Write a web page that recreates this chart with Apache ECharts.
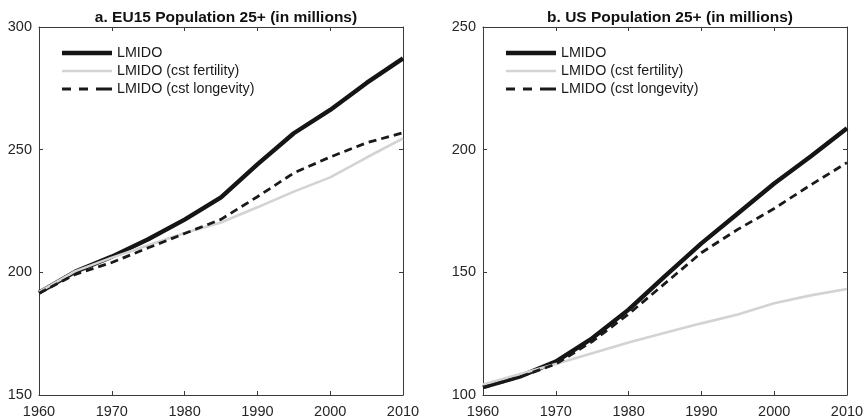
<!DOCTYPE html>
<html>
<head>
<meta charset="utf-8">
<script src="https://cdn.jsdelivr.net/npm/echarts@6/dist/echarts.min.js"></script>
<style>html,body{margin:0;padding:0;background:#fff}#c{width:867px;height:420px}</style>
</head>
<body>
<div id="c"></div>
<script>
const years = [1960, 1965, 1970, 1975, 1980, 1985, 1990, 1995, 2000, 2005, 2010];
const seriesNames = ['LMIDO', 'LMIDO (cst fertility)', 'LMIDO (cst longevity)'];
const titles = ['a. EU15 Population 25+ (in millions)', 'b. US Population 25+ (in millions)'];

const euBase      = [191.7, 200.3, 206.4, 213.5, 221.5, 230.6, 244.0, 256.7, 266.2, 277.2, 287.2];
const euFertility = [192.0, 200.5, 206.0, 211.0, 216.0, 220.3, 226.5, 232.9, 238.7, 246.8, 254.6];
const euLongevity = [191.5, 199.2, 204.0, 210.0, 215.8, 221.6, 230.8, 240.5, 247.0, 252.8, 256.9];

const usBase      = [103.2, 107.5, 113.6, 123.1, 134.8, 148.5, 161.8, 174.0, 186.2, 197.2, 208.7];
const usFertility = [104.3, 108.5, 112.6, 117.0, 121.4, 125.4, 129.2, 132.8, 137.4, 140.6, 143.2];
const usLongevity = [103.0, 107.3, 112.6, 121.8, 133.0, 145.5, 158.0, 167.5, 176.0, 185.6, 194.7];

const xTicks = [1960, 1970, 1980, 1990, 2000, 2010];
const euYRange = [150, 300];
const usYRange = [100, 250];

const pair = (vals) => years.map((y, i) => [y, vals[i]]);

const axisCol = '#3a3a3a';
const textCol = '#262626';
const fontFam = 'Liberation Sans, Arial, Helvetica, sans-serif';

const grids = [
  {left: 39, right: 464, top: 27, bottom: 25},
  {left: 483, right: 20, top: 27, bottom: 25}
];

function xAxes(g) {
  return [
    {gridIndex: g, type: 'value', position: 'bottom', min: xTicks[0], max: xTicks[xTicks.length-1], interval: 10,
     axisLine: {show: true, lineStyle: {color: axisCol, width: 1}},
     axisTick: {show: true, inside: true, length: 4, lineStyle: {color: axisCol}},
     axisLabel: {show: true, color: textCol, fontSize: 14.5, fontFamily: fontFam, margin: 9,
                 formatter: (v) => String(v)},
     splitLine: {show: false}},
    {gridIndex: g, type: 'value', position: 'top', min: xTicks[0], max: xTicks[xTicks.length-1], interval: 10,
     axisLine: {show: true, lineStyle: {color: axisCol, width: 1}},
     axisTick: {show: true, inside: true, length: 4, lineStyle: {color: axisCol}},
     axisLabel: {show: false}, splitLine: {show: false}}
  ];
}
function yAxes(g, r) {
  return [
    {gridIndex: g, type: 'value', position: 'left', min: r[0], max: r[1], interval: 50,
     axisLine: {show: true, lineStyle: {color: axisCol, width: 1}},
     axisTick: {show: true, inside: true, length: 4, lineStyle: {color: axisCol}},
     axisLabel: {show: true, color: textCol, fontSize: 14.5, fontFamily: fontFam, margin: 7,
                 formatter: (v) => String(v)},
     splitLine: {show: false}},
    {gridIndex: g, type: 'value', position: 'right', min: r[0], max: r[1], interval: 50,
     axisLine: {show: true, lineStyle: {color: axisCol, width: 1}},
     axisTick: {show: true, inside: true, length: 4, lineStyle: {color: axisCol}},
     axisLabel: {show: false}, splitLine: {show: false}}
  ];
}

const styles = [
  {color: '#151515', width: 4.4, type: 'solid', icon: 'path://M0,0H50V4.4H0Z'},
  {color: '#d3d3d3', width: 2.6, type: 'solid', icon: 'path://M0,0H50V2.6H0Z'},
  {color: '#1a1a1a', width: 2.8, type: [8, 5], icon: 'path://M0,0H9V3H0Z M17,0H26V3H17Z M34,0H50V3H34Z'}
];

function mk(name, vals, g, s) {
  return {
    name: name, type: 'line', xAxisIndex: g * 2, yAxisIndex: g * 2,
    data: pair(vals), symbol: 'none', showSymbol: false, animation: false,
    lineStyle: {color: styles[s].color, width: styles[s].width, type: styles[s].type, cap: 'butt'},
    itemStyle: {color: styles[s].color}
  };
}

const series = [
  mk(seriesNames[0], euBase, 0, 0),
  mk(seriesNames[1], euFertility, 0, 1),
  mk(seriesNames[2], euLongevity, 0, 2),
  mk(seriesNames[0], usBase, 1, 0),
  mk(seriesNames[1], usFertility, 1, 1),
  mk(seriesNames[2], usLongevity, 1, 2)
];

function legend(left) {
  return {
    left: left, top: 46, orient: 'vertical', itemWidth: 50, itemHeight: 14, itemGap: 4,
    padding: 0, selectedMode: false,
    data: seriesNames.map((n, i) => ({name: n, icon: styles[i].icon,
      itemStyle: {color: styles[i].color, borderWidth: 0}})),
    textStyle: {color: '#1a1a1a', fontSize: 14.3, fontFamily: fontFam}
  };
}

const chart = echarts.init(document.getElementById('c'), null, {renderer: 'canvas'});
chart.setOption({
  animation: false,
  backgroundColor: '#ffffff',
  title: [
    {text: titles[0], left: 221, top: 5, textAlign: 'center',
     textStyle: {fontSize: 15.5, fontWeight: 'bold', color: '#111', fontFamily: fontFam}},
    {text: titles[1], left: 665, top: 5, textAlign: 'center',
     textStyle: {fontSize: 15.5, fontWeight: 'bold', color: '#111', fontFamily: fontFam}}
  ],
  legend: [legend(62), legend(506)],
  grid: grids,
  xAxis: xAxes(0).concat(xAxes(1)),
  yAxis: yAxes(0, euYRange).concat(yAxes(1, usYRange)),
  series: series
});
</script>
</body>
</html>
